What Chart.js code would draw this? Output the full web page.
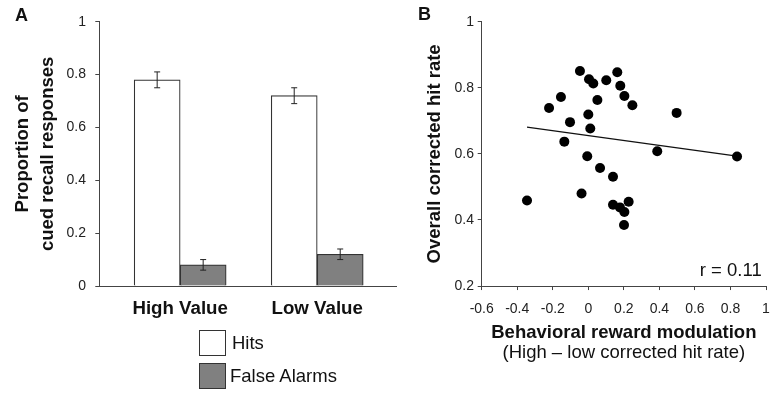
<!DOCTYPE html>
<html>
<head>
<meta charset="utf-8">
<script src="https://cdn.jsdelivr.net/npm/chart.js@4.4.1/dist/chart.umd.min.js"></script>
<style>
  body { margin: 0; background: #fff; width: 771px; height: 397px; position: relative; overflow: hidden;
         font-family: "Liberation Sans", Arial, sans-serif; color: #111; }
  canvas { position: absolute; top: 0; }
  #chartA { left: 0; }
  #chartB { left: 400px; }
  .panel { position: absolute; font-weight: bold; font-size: 18px; line-height: 18px; }
  .legend-box { position: absolute; width: 25px; height: 24px; border: 1px solid #333; }
  .legend-text { position: absolute; font-size: 18.5px; line-height: 20px; }
</style>
</head>
<body>
<canvas id="chartA" width="400" height="397"></canvas>
<canvas id="chartB" width="371" height="397"></canvas>

<div class="panel" style="left:15px; top:6px;">A</div>
<div class="panel" style="left:418px; top:5px;">B</div>

<div class="legend-box" style="left:199px; top:330px; background:#fff;"></div>
<div class="legend-text" style="left:232px; top:333px;">Hits</div>
<div class="legend-box" style="left:199px; top:363px; background:#808080;"></div>
<div class="legend-text" style="left:230px; top:366px;">False Alarms</div>

<script>
// panel A: cued recall responses
const categories = ['High Value', 'Low Value'];
const hits = [0.78, 0.72];
const hitsErr = [0.03, 0.03];
const falseAlarms = [0.08, 0.12];
const falseAlarmsErr = [0.02, 0.02];

// panel B: one point per subject
const modulation = [-0.047, 0.163, 0.004, 0.028, 0.101, 0.180, 0.203, 0.248, -0.154, -0.221,
                    0.051, 0.000, -0.103, 0.011, -0.135, 0.497, 0.388, 0.837, -0.006, 0.066,
                    0.139, -0.038, -0.345, 0.139, 0.178, 0.203, 0.227, 0.201];
const hitRate = [0.851, 0.847, 0.826, 0.813, 0.823, 0.806, 0.775, 0.747, 0.772, 0.739,
                 0.763, 0.719, 0.696, 0.677, 0.637, 0.724, 0.608, 0.592, 0.593, 0.557,
                 0.531, 0.480, 0.459, 0.446, 0.438, 0.424, 0.455, 0.385];
const fitX = [-0.345, 0.837];
const fitY = [0.681, 0.593];
const rText = 'r = 0.11';

const fontFam = '"Liberation Sans", Arial, sans-serif';
const axisColor = '#444';
Chart.defaults.font.family = fontFam;
Chart.defaults.color = '#222';

// excel style numbers: 1 not 1.0
const shortNum = v => String(Number(v.toFixed(2)));

const errorBars = {
    id: 'errorBars',
    afterDatasetsDraw(chart) {
        const ctx = chart.ctx;
        const yScale = chart.scales.y;
        chart.data.datasets.forEach((ds, di) => {
            const meta = chart.getDatasetMeta(di);
            meta.data.forEach((bar, i) => {
                const v = ds.data[i].y, e = ds.errors[i];
                const top = yScale.getPixelForValue(v + e);
                const bot = yScale.getPixelForValue(v - e);
                ctx.save();
                ctx.strokeStyle = '#222';
                ctx.lineWidth = 1;
                ctx.beginPath();
                ctx.moveTo(bar.x, top); ctx.lineTo(bar.x, bot);
                ctx.moveTo(bar.x - 3, top); ctx.lineTo(bar.x + 3, top);
                ctx.moveTo(bar.x - 3, bot); ctx.lineTo(bar.x + 3, bot);
                ctx.stroke();
                ctx.restore();
            });
        });
    }
};

const rLabel = {
    id: 'rLabel',
    afterDraw(chart) {
        const ctx = chart.ctx;
        ctx.save();
        ctx.font = '18.5px ' + fontFam;
        ctx.fillStyle = '#111';
        ctx.textAlign = 'right';
        ctx.textBaseline = 'middle';
        ctx.fillText(rText, 361.7, 271);
        ctx.restore();
    }
};

new Chart(document.getElementById('chartA'), {
    type: 'bar',
    data: {
        datasets: [
            {
                label: 'Hits',
                data: categories.map((c, i) => ({x: i, y: hits[i]})),
                errors: hitsErr,
                backgroundColor: '#fff',
                borderColor: '#333',
                borderWidth: 1.2,
                barThickness: 46
            },
            {
                label: 'False Alarms',
                data: categories.map((c, i) => ({x: i, y: falseAlarms[i]})),
                errors: falseAlarmsErr,
                backgroundColor: '#808080',
                borderColor: '#333',
                borderWidth: 1.2,
                barThickness: 46
            }
        ]
    },
    options: {
        responsive: false,
        animation: false,
        layout: { padding: { top: 21.7, right: 3.3, left: 0, bottom: 0 } },
        plugins: { legend: { display: false }, tooltip: { enabled: false } },
        scales: {
            x: {
                type: 'linear', min: -0.59, max: 1.58, offset: false,
                grid: { drawOnChartArea: false, drawTicks: false, offset: false },
                border: { color: axisColor, width: 1 },
                afterBuildTicks: s => { s.ticks = categories.map((c, i) => ({value: i})); },
                ticks: {
                    callback: v => categories[v],
                    font: { size: 18.7, weight: 'bold' }, color: '#111',
                    padding: 12, maxRotation: 0, autoSkip: false
                },
                afterFit: s => { s.height = 111; }
            },
            y: {
                min: 0, max: 1,
                ticks: { stepSize: 0.2, font: { size: 14 }, color: '#222', padding: 9.3, callback: shortNum },
                grid: { drawOnChartArea: false, tickLength: 4, color: axisColor },
                border: { color: axisColor, width: 1 },
                title: {
                    display: true, text: ['Proportion of', 'cued recall responses'], color: '#111',
                    font: { size: 18.5, weight: 'bold', lineHeight: 25 / 18.5 },
                    padding: { top: 10, bottom: 0 }
                },
                afterFit: s => { s.width = 99.3; }
            }
        }
    },
    plugins: [errorBars]
});

new Chart(document.getElementById('chartB'), {
    type: 'scatter',
    data: {
        datasets: [
            {
                type: 'line',
                data: fitX.map((x, i) => ({x: x, y: fitY[i]})),
                borderColor: '#111', borderWidth: 1.3,
                pointRadius: 0, fill: false, order: 1
            },
            {
                data: modulation.map((x, i) => ({x: x, y: hitRate[i]})),
                backgroundColor: '#000', borderColor: '#000', borderWidth: 0,
                pointRadius: 5, order: 0
            }
        ]
    },
    options: {
        responsive: false,
        animation: false,
        layout: { padding: { top: 21.7, right: 4.3, left: 0, bottom: 35 } },
        plugins: {
            legend: { display: false },
            tooltip: { enabled: false },
            subtitle: {
                display: true, position: 'bottom', fullSize: false,
                text: '(High – low corrected hit rate)', color: '#111',
                font: { size: 18.5, lineHeight: 1 },
                padding: { top: 0, bottom: 0 }
            }
        },
        scales: {
            x: {
                type: 'linear', min: -0.6, max: 1,
                ticks: { stepSize: 0.2, font: { size: 14 }, color: '#222', padding: 11, callback: shortNum },
                grid: { drawOnChartArea: false, tickLength: 4, color: axisColor },
                border: { color: axisColor, width: 1 },
                title: {
                    display: true, text: 'Behavioral reward modulation', color: '#111',
                    font: { size: 18.5, weight: 'bold', lineHeight: 1 },
                    padding: { top: 0, bottom: 1.2 }
                },
                afterFit: s => {
                    s.height = 57.45;
                    // tick padding would otherwise push the plot in from the right
                    s.paddingLeft = 0;
                    s.paddingRight = 4.3;
                }
            },
            y: {
                min: 0.2, max: 1,
                ticks: { stepSize: 0.2, font: { size: 14 }, color: '#222', padding: 3.7, callback: shortNum },
                grid: { drawOnChartArea: false, tickLength: 4, color: axisColor },
                border: { color: axisColor, width: 1 },
                title: {
                    display: true, text: 'Overall corrected hit rate', color: '#111',
                    font: { size: 18.5, weight: 'bold' },
                    padding: { top: 24, bottom: 0 }
                },
                afterFit: s => { s.width = 81.7; }
            }
        }
    },
    plugins: [rLabel]
});
</script>
</body>
</html>
